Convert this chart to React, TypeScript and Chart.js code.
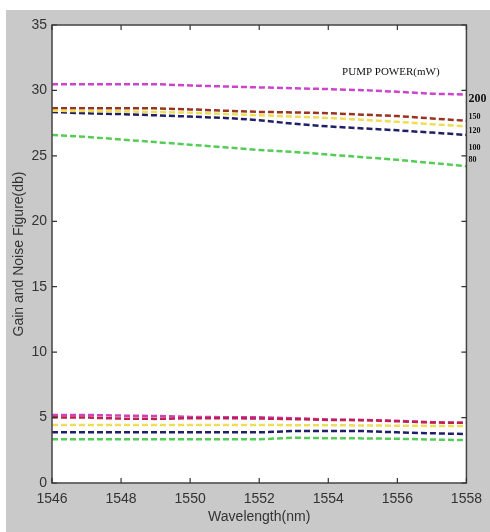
import React, { useEffect, useRef } from "react";
import { Chart, registerables } from "chart.js";

Chart.register(...registerables);

// ---- data ----
const wavelengths = [1546, 1547, 1548, 1549, 1550, 1551, 1552, 1553, 1554, 1555, 1556, 1557, 1558];

const gain200 = [30.48, 30.48, 30.48, 30.48, 30.38, 30.3, 30.23, 30.17, 30.1, 30.02, 29.9, 29.75, 29.68];
const gain150 = [28.63, 28.63, 28.63, 28.63, 28.55, 28.45, 28.36, 28.32, 28.26, 28.15, 28.04, 27.86, 27.68];
const gain120 = [28.45, 28.42, 28.4, 28.35, 28.3, 28.2, 28.1, 28.0, 27.9, 27.75, 27.6, 27.42, 27.25];
const gain100 = [28.36, 28.25, 28.19, 28.1, 28.0, 27.9, 27.73, 27.45, 27.25, 27.1, 26.95, 26.78, 26.6];
const gain80 = [26.6, 26.45, 26.25, 26.05, 25.85, 25.65, 25.45, 25.3, 25.1, 24.9, 24.7, 24.45, 24.22];

const nf200 = [5.2, 5.2, 5.15, 5.12, 5.05, 5.03, 5.02, 4.95, 4.85, 4.82, 4.75, 4.65, 4.6];
const nf150 = [5.02, 5.0, 4.92, 4.9, 4.95, 4.95, 4.93, 4.88, 4.82, 4.8, 4.72, 4.62, 4.6];
const nf120 = [4.43, 4.43, 4.43, 4.43, 4.43, 4.43, 4.43, 4.42, 4.41, 4.4, 4.38, 4.36, 4.35];
const nf100 = [3.87, 3.87, 3.87, 3.87, 3.87, 3.87, 3.87, 3.97, 3.97, 3.97, 3.87, 3.8, 3.74];
const nf80 = [3.34, 3.34, 3.34, 3.34, 3.34, 3.34, 3.34, 3.46, 3.42, 3.41, 3.38, 3.32, 3.28];

const xTicks = [1546, 1548, 1550, 1552, 1554, 1556, 1558];
const yTicks = [0, 5, 10, 15, 20, 25, 30, 35];

const powerLabels = ["200", "150", "120", "100", "80"];
const powerLabelValues = [29.35, 27.95, 26.9, 25.6, 24.7];
const legendTitle = "PUMP POWER(mW)";

const seriesColors = ["#cc44cc", "#993322", "#eedd55", "#1f1f66", "#55cc55"];
const nfColors = ["#cc44bb", "#c02050", "#eedd55", "#1f1f66", "#55cc55"];

const toPts = (ys: number[]) => wavelengths.map((x, i) => ({ x, y: ys[i] }));

const FONT = "'Liberation Sans Narrow', 'Liberation Sans', Arial, sans-serif";

const framePlugin = {
  id: "frame",
  beforeDraw(chart: any) {
    const { ctx, chartArea: a, width, height } = chart;
    ctx.save();
    ctx.fillStyle = "#ffffff";
    ctx.fillRect(0, 0, width, height);
    ctx.fillStyle = "#c9c9c9";
    ctx.fillRect(6, 10, width - 6, height - 10);
    ctx.fillStyle = "#ffffff";
    ctx.fillRect(a.left, a.top, a.right - a.left, a.bottom - a.top);
    ctx.restore();
  },
  afterDraw(chart: any) {
    const { ctx, chartArea: a, scales } = chart;
    const xs = scales.x;
    const ys = scales.y;
    ctx.save();
    // frame
    ctx.strokeStyle = "#444";
    ctx.lineWidth = 1.5;
    ctx.strokeRect(a.left, a.top, a.right - a.left, a.bottom - a.top);
    // inward ticks
    ctx.lineWidth = 1.2;
    ctx.strokeStyle = "#333";
    const tl = 5;
    ctx.beginPath();
    xTicks.forEach((v) => {
      const px = xs.getPixelForValue(v);
      ctx.moveTo(px, a.bottom);
      ctx.lineTo(px, a.bottom - tl);
      ctx.moveTo(px, a.top);
      ctx.lineTo(px, a.top + tl);
    });
    yTicks.forEach((v) => {
      const py = ys.getPixelForValue(v);
      ctx.moveTo(a.left, py);
      ctx.lineTo(a.left + tl, py);
      ctx.moveTo(a.right, py);
      ctx.lineTo(a.right - tl, py);
    });
    ctx.stroke();
    // legend title
    ctx.fillStyle = "#111";
    ctx.font = "11px 'Liberation Serif', 'Times New Roman', serif";
    ctx.textAlign = "left";
    ctx.textBaseline = "middle";
    ctx.fillText(legendTitle, xs.getPixelForValue(1554.4), ys.getPixelForValue(31.4));
    // power labels
    powerLabels.forEach((t, i) => {
      ctx.font = i === 0 ? "bold 12px 'Liberation Serif', serif" : "bold 8px 'Liberation Serif', serif";
      ctx.fillText(t, a.right + 2, ys.getPixelForValue(powerLabelValues[i]));
    });
    ctx.restore();
  },
};

export default function App() {
  const ref = useRef<HTMLCanvasElement | null>(null);

  useEffect(() => {
    document.body.style.margin = "0";
    const canvas = ref.current;
    if (!canvas) return;
    const mk = (label: string, ys: number[], color: string) => ({
      label,
      data: toPts(ys),
      borderColor: color,
      backgroundColor: color,
      borderWidth: 2.5,
      borderDash: [6, 3],
      pointRadius: 0,
      fill: false,
      tension: 0,
    });
    const chart = new Chart(canvas, {
      type: "line",
      data: {
        datasets: [
          mk("Gain 80", gain80, seriesColors[4]),
          mk("Gain 120", gain120, seriesColors[2]),
          mk("Gain 100", gain100, seriesColors[3]),
          mk("Gain 150", gain150, seriesColors[1]),
          mk("Gain 200", gain200, seriesColors[0]),
          mk("NF 80", nf80, nfColors[4]),
          mk("NF 100", nf100, nfColors[3]),
          mk("NF 120", nf120, nfColors[2]),
          mk("NF 150", nf150, nfColors[1]),
          mk("NF 200", nf200, nfColors[0]),
        ],
      },
      options: {
        animation: false,
        responsive: true,
        maintainAspectRatio: false,
        layout: { padding: { left: 7, top: 25, right: 23, bottom: 2 } },
        plugins: {
          legend: { display: false },
          tooltip: { enabled: false },
        },
        scales: {
          x: {
            type: "linear",
            min: 1546,
            max: 1558,
            afterFit: (s: any) => {
              s.height = 47;
            },
            afterBuildTicks: (s: any) => {
              s.ticks = xTicks.map((v) => ({ value: v }));
            },
            grid: { display: false, drawTicks: false },
            border: { display: false },
            ticks: {
              padding: 8,
              color: "#333",
              font: { family: FONT, size: 14 },
              maxRotation: 0,
              callback: (v: any) => String(v),
            },
            title: {
              display: true,
              text: "Wavelength(nm)",
              color: "#333",
              font: { family: "'Liberation Sans', Arial, sans-serif", size: 14 },
              padding: { top: 0, bottom: 4 },
            },
          },
          y: {
            type: "linear",
            min: 0,
            max: 35,
            afterFit: (s: any) => {
              s.width = 45;
            },
            afterBuildTicks: (s: any) => {
              s.ticks = yTicks.map((v) => ({ value: v }));
            },
            grid: { display: false, drawTicks: false },
            border: { display: false },
            ticks: {
              padding: 5,
              color: "#333",
              font: { family: FONT, size: 14 },
              callback: (v: any) => String(v),
            },
            title: {
              display: true,
              text: "Gain and Noise Figure(db)",
              color: "#333",
              font: { family: "'Liberation Sans', Arial, sans-serif", size: 14 },
              padding: { top: 4, bottom: 0 },
            },
          },
        },
      },
      plugins: [framePlugin],
    });
    return () => chart.destroy();
  }, []);

  return (
    <div style={{ position: "fixed", left: 0, top: 0, width: 490, height: 532 }}>
      <canvas ref={ref} />
    </div>
  );
}
